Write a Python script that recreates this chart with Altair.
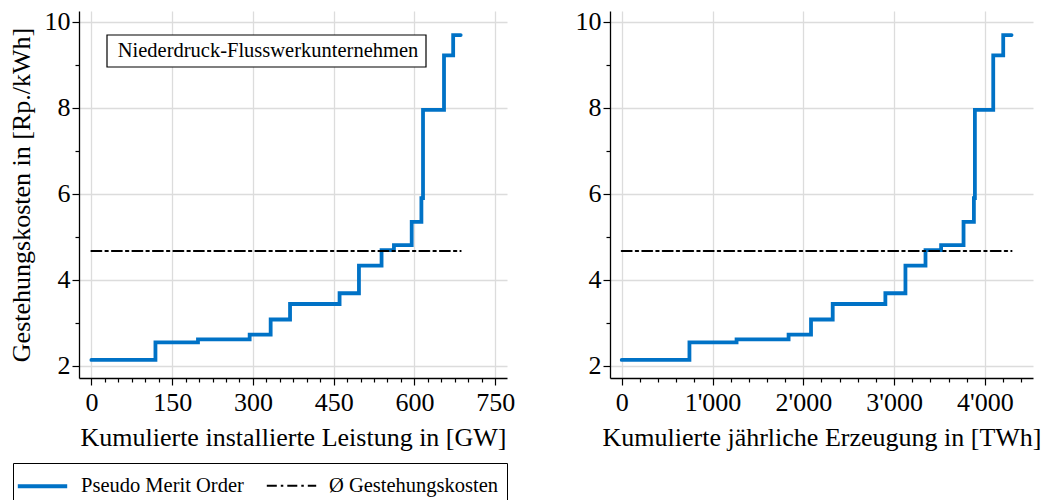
import altair as alt
import pandas as pd

# ---- data ----
left_x = [0, 119, 198, 294, 333, 369, 461, 497, 539, 562, 595, 613, 616, 655, 672, 686]
right_x = [0, 746, 1265, 1838, 2085, 2324, 2904, 3125, 3346, 3518, 3765, 3879, 3890, 4092, 4202, 4294]
cost_y = [2.14, 2.55, 2.62, 2.73, 3.08, 3.44, 3.69, 4.33, 4.69, 4.81, 5.35, 5.9, 7.95, 9.22, 9.69, 9.69]
avg_cost = 4.67
series = ["Pseudo Merit Order", "Ø Gestehungskosten"]
annotation = "Niederdruck-Flusswerkunternehmen"

FONT = "Liberation Serif"
BLUE = "#0072C6"


def make_df(xs):
    rows = [{"x": x, "y": y, "s": series[0], "o": i} for i, (x, y) in enumerate(zip(xs, cost_y))]
    rows += [{"x": xs[0], "y": avg_cost, "s": series[1], "o": 0},
             {"x": xs[-1], "y": avg_cost, "s": series[1], "o": 1}]
    return pd.DataFrame(rows)


color = alt.Color("s:N", title=None,
                  scale=alt.Scale(domain=series, range=[BLUE, "black"]),
                  legend=alt.Legend(orient="none", legendX=-66, legendY=452, direction="horizontal",
                                    strokeColor="black", padding=8, cornerRadius=0,
                                    labelFont=FONT, labelFontSize=20.5, labelColor="black",
                                    symbolType="M-1.4,0H2.4", symbolSize=676, columnPadding=18,
                                    labelOffset=30, labelLimit=400, fillColor="white",
                                    symbolStrokeColor="black"))
dash = alt.StrokeDash("s:N", title=None,
                      scale=alt.Scale(domain=series, range=[[1, 0], [10, 4, 2.5, 4]]))
swidth = alt.StrokeWidth("s:N", title=None,
                         scale=alt.Scale(domain=series, range=[3.8, 2]))

y_all = [2 + 0.5 * i for i in range(17)]


def y_axis(title):
    kw = dict(values=y_all, grid=True,
              gridOpacity={"condition": {"test": "datum.value % 2 === 0", "value": 1}, "value": 0},
              tickSize={"condition": {"test": "datum.value % 2 === 0", "value": 7}, "value": 4},
              labelExpr="datum.value % 2 === 0 ? datum.label : ''",
              format="d", labelPadding=2)
    if title:
        kw["title"] = title
        kw["titlePadding"] = 10
    else:
        kw["title"] = None
    return alt.Axis(**kw)


def x_axis(title, step, major, fmt_expr):
    return alt.Axis(title=title, values=step, grid=True,
                    gridOpacity={"condition": {"test": f"datum.value % {major} === 0", "value": 1}, "value": 0},
                    tickSize={"condition": {"test": f"datum.value % {major} === 0", "value": 7}, "value": 4},
                    labelExpr=f"datum.value % {major} === 0 ? {fmt_expr} : ''",
                    labelPadding=4, titlePadding=9)


def panel(xs, domain, ticks_minor, major, fmt_expr, xtitle, ytitle, width):
    df = make_df(xs)
    line = alt.Chart(df).mark_line(interpolate="step-after", strokeCap="round", clip=True).encode(
        x=alt.X("x:Q", scale=alt.Scale(domain=domain, nice=False, zero=False),
                axis=x_axis(xtitle, ticks_minor, major, fmt_expr)),
        y=alt.Y("y:Q", scale=alt.Scale(domain=[1.72, 10.25], nice=False, zero=False),
                axis=y_axis(ytitle)),
        color=color, strokeDash=dash, strokeWidth=swidth,
        detail="s:N", order="o:Q",
    )
    return line.properties(width=width, height=367)


left_minor = list(range(0, 751, 25))
right_minor = list(range(0, 4401, 200))

left = panel(left_x, [-23, 772], left_minor, 150, "datum.label",
             "Kumulierte installierte Leistung in [GW]", "Gestehungskosten in [Rp./kWh]", 428)
right = panel(right_x, [-129, 4530], right_minor, 1000,
              "replace(format(datum.value, ','), ',', \"'\")",
              "Kumulierte jährliche Erzeugung in [TWh]", None, 423)

box = alt.Chart(pd.DataFrame({"t": [annotation]})).mark_rect(
    fill="white", stroke="black", strokeWidth=1.2).encode(
    x=alt.value(28), x2=alt.value(347), y=alt.value(24), y2=alt.value(56))
txt = alt.Chart(pd.DataFrame({"t": [annotation]})).mark_text(
    font=FONT, fontSize=20.5, color="black", align="center", baseline="middle").encode(
    x=alt.value(189), y=alt.value(40), text="t:N")

left_layer = alt.layer(left, box, txt)

chart = alt.hconcat(left_layer, right, spacing=60).configure_axis(
    labelFont=FONT, titleFont=FONT, labelFontSize=26, titleFontSize=26,
    labelColor="black", titleColor="black", titleFontWeight="normal",
    domainColor="black", tickColor="black", gridColor="#dcdcdc", gridWidth=1.3,
    domainWidth=1.3, tickWidth=1.2, labelFlush=False, labelOverlap=False,
).configure_view(stroke=None).properties(
    padding={"left": 0, "top": 0, "right": 0, "bottom": 0}
)

chart.save("out.html", embed_options={"renderer": "svg", "actions": False})
